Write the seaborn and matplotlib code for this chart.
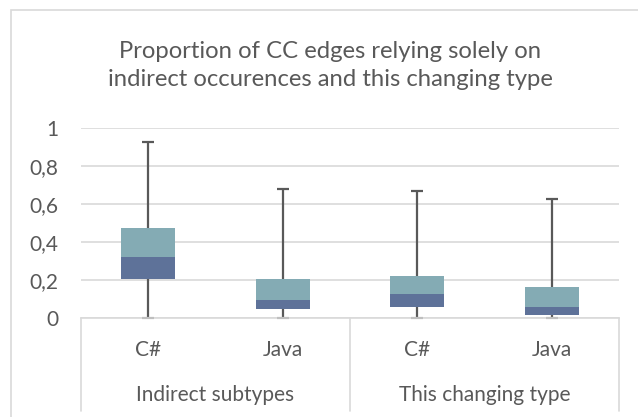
import matplotlib
matplotlib.use("Agg")
import matplotlib.pyplot as plt
import matplotlib.transforms as mtransforms
from matplotlib.patches import Rectangle
import seaborn as sns
import pandas as pd
import numpy as np

# data (Excel style box plot built from stacked bars)
groups = ["Indirect subtypes", "This changing type"]
languages = ["C#", "Java", "C#", "Java"]
labels = ["Indirect subtypes C#", "Indirect subtypes Java", "This changing type C#", "This changing type Java"]
mins = [0.0, 0.0, 0.0, 0.0]
q1 = [0.206, 0.046, 0.058, 0.016]
medians = [0.322, 0.095, 0.128, 0.058]
q3 = [0.473, 0.204, 0.222, 0.164]
maxs = [0.927, 0.681, 0.672, 0.628]

dark_col = "#5E7299"
light_col = "#84ABB4"
text_col = "#595959"
grid_col = "#D9D9D9"

sns.set_style("white")
plt.rcParams["font.family"] = ["Lato", "DejaVu Sans"]

df = pd.DataFrame({"label": labels, "q1": q1, "med": medians, "q3": q3})
df["lower"] = df["med"] - df["q1"]
df["upper"] = df["q3"] - df["med"]

fig = plt.figure(figsize=(6.38, 4.17), dpi=100)
ax = fig.add_axes([81 / 638, 99 / 417, 538 / 638, 189.7 / 417])

sns.barplot(data=df, x="label", y="lower", bottom=df["q1"].values, color=dark_col,
            width=0.4, saturation=1, ax=ax, errorbar=None, linewidth=0)
sns.barplot(data=df, x="label", y="upper", bottom=df["med"].values, color=light_col,
            width=0.4, saturation=1, ax=ax, errorbar=None, linewidth=0)

# whiskers and caps
xpos = np.arange(len(labels))
ax.vlines(xpos, q3, maxs, color=text_col, lw=1.6, zorder=3)
ax.vlines(xpos, mins, q1, color=text_col, lw=1.6, zorder=3)
ax.hlines(maxs, xpos - 0.045, xpos + 0.045, color=text_col, lw=1.6, zorder=3)
ax.hlines(mins, xpos - 0.045, xpos + 0.045, color="#BFBFBF", lw=1.6, zorder=3, clip_on=False)

ax.set_ylim(0, 1)
ax.set_xlim(-0.5, 3.5)
ax.set_yticks([0, 0.2, 0.4, 0.6, 0.8, 1])
ax.set_yticklabels(["0", "0,2", "0,4", "0,6", "0,8", "1"])
ax.yaxis.grid(True, color=grid_col, linewidth=1.2)
ax.set_axisbelow(True)
for s in ["top", "right", "left"]:
    ax.spines[s].set_visible(False)
ax.spines["bottom"].set_color(grid_col)
ax.spines["bottom"].set_linewidth(1.2)
ax.tick_params(axis="y", length=0, pad=16.5, labelsize=15, labelcolor=text_col)
ax.set_xticks([])
ax.set_xlabel("")
ax.set_ylabel("")

# two-level category axis
trans = mtransforms.blended_transform_factory(ax.transData, ax.transAxes)
bot = -93 / 189.7
for xv in [-0.5, 1.5, 3.5]:
    ax.plot([xv, xv], [0, bot], transform=trans, color=grid_col, lw=1.2, clip_on=False)
for x, lang in zip(xpos, languages):
    ax.text(x, -32 / 189.7, lang, transform=trans, ha="center", va="center",
            fontsize=15, color=text_col)
for i, g in enumerate(groups):
    ax.text(2 * i + 0.5, -77 / 189.7, g, transform=trans, ha="center", va="center",
            fontsize=15, color=text_col)

# chart border and title
fig.patches.append(Rectangle((11 / 638, -0.1), 1.2, 1.1 - 10 / 417, transform=fig.transFigure,
                             fill=False, edgecolor=grid_col, lw=1.2))
fig.text(330 / 638, 1 - 65.5 / 417,
         "Proportion of CC edges relying solely on\nindirect occurences and this changing type",
         ha="center", va="center", fontsize=17.2, color=text_col, linespacing=1.42)

fig.savefig("out.png", dpi=100)
